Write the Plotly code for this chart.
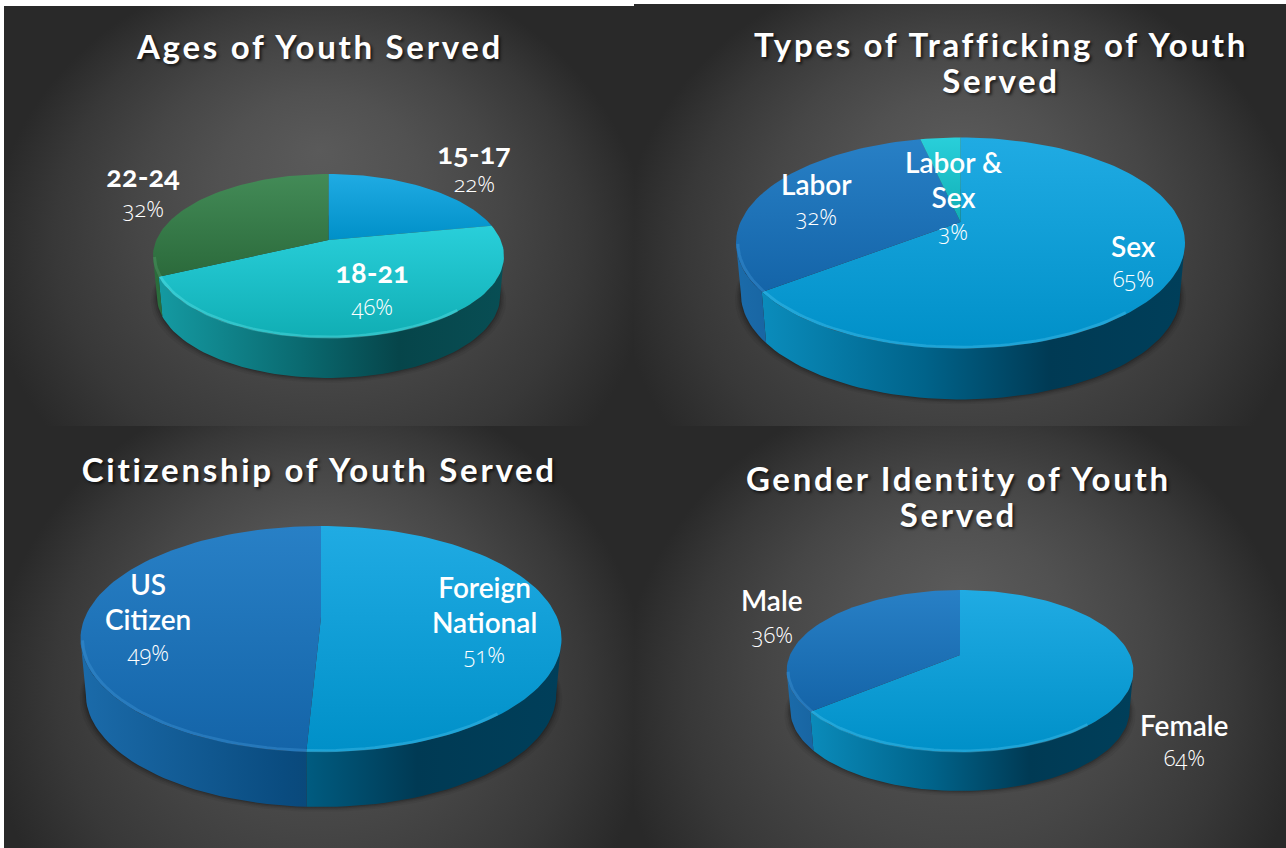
import base64
import numpy as np
import plotly.graph_objects as go

# ---------- data ----------
age_title = "Ages of Youth Served"
age_labels = ["15-17", "18-21", "22-24"]
age_values = [22, 46, 32]

traffic_title = "Types of Trafficking of Youth<br>Served"
traffic_labels = ["Sex", "Labor", "Labor &<br>Sex"]
traffic_values = [64.6, 31.9, 3.5]

citizen_title = "Citizenship of Youth Served"
citizen_labels = ["Foreign<br>National", "US<br>Citizen"]
citizen_values = [50.8, 49.2]

gender_title = "Gender Identity of Youth<br>Served"
gender_labels = ["Female", "Male"]
gender_values = [64, 36]

# ---------- styling ----------
W, H = 1286, 848
TOPS = {
    "sky": ("#20ABE3", "#0090C8"),
    "blue": ("#2880C6", "#1464A8"),
    "teal": ("#29CFDA", "#10AEB4"),
    "green": ("#438B57", "#2B6A3B"),
}
WALLS = {
    "sky": ["#0C93C4", "#00638A", "#003A54", "#003F5A"],
    "blue": ["#1B6BAA", "#0A4C80", "#083A64", "#083C64"],
    "teal": ["#159CA4", "#0A6A70", "#06454A", "#084E54"],
    "green": ["#2A6E3C", "#1E5530", "#153F22", "#174525"],
}
RIMS = {"sky": "#5CCDF5", "blue": "#4AA0E0", "teal": "#70EEF2", "green": "#5BA872"}
TITLE_FONT = dict(family="Lato", size=33, color="white", weight=700,
                  shadow="2px 2px 3px rgba(0,0,0,0.65)")
NAME_FONT = dict(family="Lato", size=28, color="white", weight=600)
BOLD_NAME_FONT = dict(family="Lato", size=29, color="white", weight=700)
PCT_FONT = dict(family="Open Sans", size=22, color="white", weight=300)
WALL_INSET = 0.978

# background box, light focus, and the gradient circle's centre offset and radius
PANELS = [
    dict(x0=4, y0=6, x1=634, y1=426, fx=320, fy=150, c=252, sy=298),
    dict(x0=634, y0=4, x1=1286, y1=426, fx=960, fy=150, c=262, sy=310),
    dict(x0=4, y0=426, x1=634, y1=848, fx=320, fy=575, c=278, sy=325),
    dict(x0=634, y0=426, x1=1286, y1=848, fx=960, fy=590, c=285, sy=330),
]

CHARTS = [
    dict(values=age_values, labels=age_labels, colors=["sky", "teal", "green"],
         cx=328.5, cy=256, rx=175.5, ry=82, d=16, h=40, title=age_title, tx=319, ty=46,
         name_font=BOLD_NAME_FONT,
         pos=[(474, 152, 183), (372, 271, 306), (143, 175, 208)]),
    dict(values=traffic_values, labels=traffic_labels, colors=["sky", "blue", "teal"],
         cx=960.5, cy=243, rx=224.5, ry=105.5, d=21, h=51, title=traffic_title, tx=1001, ty=65,
         name_font=NAME_FONT, shown=[65, 32, 3],
         pos=[(1133, 246, 278), (816, 184, 216), (953, 180, 231)]),
    dict(values=citizen_values, labels=citizen_labels, colors=["sky", "blue"],
         cx=321, cy=639, rx=240.5, ry=113, d=22, h=55, title=citizen_title, tx=319, ty=469,
         name_font=NAME_FONT, shown=[51, 49],
         pos=[(484, 605, 654), (148, 602, 652)]),
    dict(values=gender_values, labels=gender_labels, colors=["sky", "blue"],
         cx=960, cy=671, rx=173.4, ry=81, d=16, h=39, title=gender_title, tx=958, ty=499,
         name_font=NAME_FONT,
         pos=[(1184, 725, 757), (772, 600, 634)]),
]


def project(theta, c, scale=1.0):
    """Clockwise angle from 12 o'clock to the perspective-drawn pie face."""
    k = c["d"] / c["ry"]
    u, v = np.sin(theta) * scale, np.cos(theta) * scale
    den = 1 + k * v
    x = c["cx"] + c["rx"] * np.sqrt(1 - k * k) * u / den
    y = c["cy"] + (-c["ry"] * v - c["d"]) / den
    return x, y


def arc(a, b, n=90):
    return np.linspace(a, b, max(2, int(n * (b - a) / np.pi) + 2))


def panel_image(p):
    w, h = p["x1"] - p["x0"], p["y1"] - p["y0"]
    fx, fy = p["fx"] - p["x0"], p["fy"] - p["y0"]
    sx, sy = w / 2 * 1.05, p["sy"]
    cy = p["c"]
    svg = f'''<svg xmlns="http://www.w3.org/2000/svg" width="{w}" height="{h}" viewBox="0 0 {w} {h}">
<defs><radialGradient id="g" gradientUnits="userSpaceOnUse" cx="0" cy="0" r="1" fx="{(fx-w/2)/sx}" fy="{(fy-cy)/sy}"
 gradientTransform="translate({w/2} {cy}) scale({sx} {sy})">
<stop offset="0" stop-color="#5A5A5A"/><stop offset="0.3" stop-color="#515151"/>
<stop offset="0.55" stop-color="#464646"/><stop offset="0.8" stop-color="#383838"/>
<stop offset="1" stop-color="#292929"/></radialGradient></defs>
<rect width="{w}" height="{h}" fill="url(#g)"/></svg>'''
    return "data:image/svg+xml;base64," + base64.b64encode(svg.encode()).decode()


fig = go.Figure()
images = [dict(source=panel_image(p), xref="x", yref="y", x=p["x0"], y=p["y0"],
               sizex=p["x1"] - p["x0"], sizey=p["y1"] - p["y0"], sizing="stretch",
               xanchor="left", yanchor="top", layer="below") for p in PANELS]
annotations = []


def poly(x, y, **kw):
    fig.add_trace(go.Scatter(x=x, y=y, mode="lines", fill="toself", line=dict(width=0),
                             hoverinfo="skip", showlegend=False, **kw))


for c in CHARTS:
    vals = np.array(c["values"], float)
    edges = np.concatenate([[0], np.cumsum(vals) / vals.sum() * 2 * np.pi])
    k = c["d"] / c["ry"]
    th_r = np.arccos(-k)
    th_l = 2 * np.pi - th_r
    left, right = c["cx"] - c["rx"], c["cx"] + c["rx"]

    # soft shadow under the disc
    t = arc(0, 2 * np.pi)
    ex, ey = project(t, c)
    for grow, alpha in [(6, 0.05), (4, 0.07), (2.5, 0.10), (1, 0.14)]:
        mx = c["cx"] + (ex - c["cx"]) * (WALL_INSET + grow / c["rx"])
        poly(mx, ey + c["h"] + grow * 0.8, fillcolor=f"rgba(0,0,0,{alpha})")

    # walls
    for i, col in enumerate(c["colors"]):
        a, b = max(edges[i], th_r), min(edges[i + 1], th_l)
        if b <= a:
            continue
        t = arc(a, b)
        x, y = project(t, c)
        xb = c["cx"] + (x - c["cx"]) * WALL_INSET
        stops = WALLS[col]
        poly(np.r_[x, xb[::-1], x[0]], np.r_[y, (y + c["h"])[::-1], y[0]],
             fillgradient=dict(type="horizontal", start=left, stop=right,
                               colorscale=[[0, stops[0]], [0.42, stops[1]],
                                           [0.7, stops[2]], [1, stops[3]]]))

    # faces: each slice carries its own top-to-bottom shade
    for i, col in enumerate(c["colors"]):
        t = arc(edges[i], edges[i + 1])
        x, y = project(t, c)
        ax, ay = project(np.array([0.0]), c, 0.0)
        ys = np.r_[ay, y]
        poly(np.r_[ax, x, ax], np.r_[ay, y, ay],
             fillgradient=dict(type="vertical", start=float(ys.min()), stop=float(ys.max()),
                               colorscale=[[0, TOPS[col][0]], [1, TOPS[col][1]]]))

    # bevel highlight on the front rim
    for i, col in enumerate(c["colors"]):
        a, b = max(edges[i], np.radians(140)), min(edges[i + 1], np.radians(258))
        if b <= a:
            continue
        x, y = project(arc(a, b), c, 0.992)
        fig.add_trace(go.Scatter(x=x, y=y, mode="lines", hoverinfo="skip", showlegend=False,
                                 opacity=0.32, line=dict(color=RIMS[col], width=3)))

    # text
    annotations.append(dict(x=c["tx"], y=c["ty"], text=c["title"], font=TITLE_FONT))
    shown = c.get("shown", c["values"])
    for lab, v, (px, ny, py) in zip(c["labels"], shown, c["pos"]):
        annotations.append(dict(x=px, y=ny, text=lab, font=c["name_font"]))
        annotations.append(dict(x=px, y=py, text=f"{v}%", font=PCT_FONT))

for a in annotations:
    a.update(xref="x", yref="y", showarrow=False, xanchor="center", yanchor="middle")

fig.update_layout(
    width=W, height=H, margin=dict(l=0, r=0, t=0, b=0),
    paper_bgcolor="white", plot_bgcolor="white",
    xaxis=dict(range=[0, W], visible=False, fixedrange=True),
    yaxis=dict(range=[H, 0], visible=False, fixedrange=True),
    images=images, annotations=annotations, showlegend=False,
)

post = """
document.body.style.margin = '0';
var gd = document.getElementById('{plot_id}');
function tune() {
  gd.querySelectorAll('.annotation-text').forEach(function (t) {
    var title = parseFloat(t.style.fontSize) >= 30;
    if (title) t.style.letterSpacing = '2.7px';
    t.style.fontFeatureSettings = '"onum"';
    t.querySelectorAll('tspan.line').forEach(function (s, i) {
      if (i > 0) s.setAttribute('dy', ((title ? 36 : 35) * i) + 'px');
    });
  });
}
tune();
gd.on('plotly_afterplot', tune);
"""
fig.write_html("out.html", post_script=post, config=dict(displayModeBar=False))
